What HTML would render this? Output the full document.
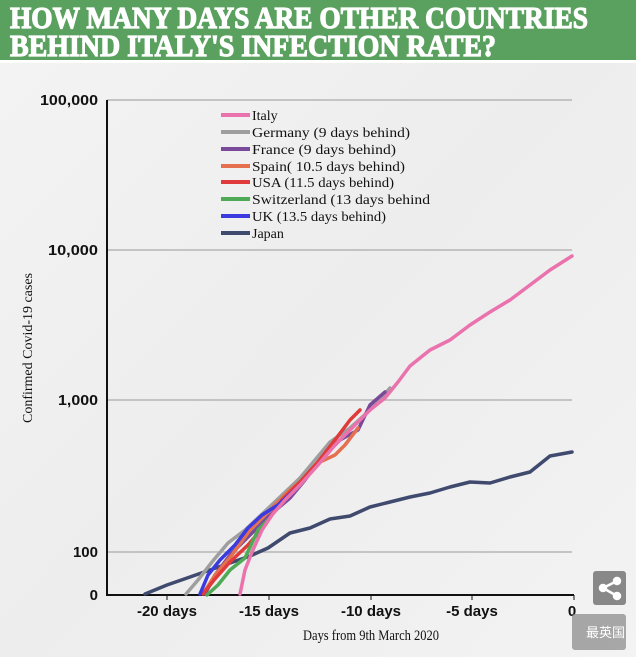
<!DOCTYPE html>
<html><head><meta charset="utf-8"><style>
html,body{margin:0;padding:0;width:636px;height:657px;overflow:hidden;background:#f2f2f2}
</style></head><body>
<svg width="636" height="657" viewBox="0 0 636 657" xmlns="http://www.w3.org/2000/svg" style="display:block">
<defs><linearGradient id="bg" x1="0" y1="0" x2="1" y2="1">
<stop offset="0" stop-color="#f4f4f4"/><stop offset="0.5" stop-color="#ededed"/><stop offset="1" stop-color="#f3f3f3"/></linearGradient></defs>
<rect width="636" height="657" fill="url(#bg)"/>
<rect x="0" y="0" width="636" height="60" fill="#5aa05e"/>
<rect x="0" y="60" width="636" height="3" fill="#fff"/>
<g font-family="Liberation Serif, serif" font-weight="bold" fill="#fff" stroke="#fff" stroke-width="1.2" font-size="31">
<text x="10" y="28" textLength="578" lengthAdjust="spacingAndGlyphs">HOW MANY DAYS ARE OTHER COUNTRIES</text>
<text x="10" y="56" textLength="486" lengthAdjust="spacingAndGlyphs">BEHIND ITALY'S INFECTION RATE?</text>
</g>
<g stroke="#b5b5b5" stroke-width="1.5">
<line x1="107" y1="100" x2="572" y2="100"/>
<line x1="107" y1="250" x2="572" y2="250"/>
<line x1="107" y1="400" x2="572" y2="400"/>
<line x1="107" y1="552" x2="572" y2="552"/>
</g>
<g stroke="#111" stroke-width="2" fill="none">
<line x1="107" y1="100" x2="107" y2="596"/>
<line x1="106" y1="595" x2="574" y2="595"/>
</g>
<g stroke="#111" stroke-width="1">
<line x1="167" y1="595" x2="167" y2="600"/><line x1="269" y1="595" x2="269" y2="600"/><line x1="371" y1="595" x2="371" y2="600"/><line x1="472" y1="595" x2="472" y2="600"/><line x1="574" y1="595" x2="574" y2="600"/>
</g>
<g font-family="Liberation Sans, sans-serif" font-weight="bold" font-size="15" fill="#111" text-anchor="end">
<text x="98" y="105" textLength="58" lengthAdjust="spacingAndGlyphs">100,000</text>
<text x="98" y="255" textLength="50" lengthAdjust="spacingAndGlyphs">10,000</text>
<text x="98" y="405" textLength="40" lengthAdjust="spacingAndGlyphs">1,000</text>
<text x="98" y="557">100</text>
<text x="98" y="600">0</text>
</g>
<g font-family="Liberation Sans, sans-serif" font-weight="bold" font-size="15" fill="#111" text-anchor="middle">
<text x="167" y="616">-20 days</text><text x="269" y="616">-15 days</text><text x="371" y="616">-10 days</text><text x="472" y="616">-5 days</text><text x="572" y="616">0</text>
</g>
<text x="371" y="640" font-family="Liberation Serif, serif" font-size="15" fill="#111" text-anchor="middle" textLength="136" lengthAdjust="spacingAndGlyphs">Days from 9th March 2020</text>
<text transform="translate(32,348) rotate(-90)" font-family="Liberation Serif, serif" font-size="14" fill="#111" text-anchor="middle" textLength="150" lengthAdjust="spacingAndGlyphs">Confirmed Covid-19 cases</text>
<g fill="none" stroke-width="3.5" stroke-linejoin="round" stroke-linecap="round">
<polyline stroke="#3f4a6e" points="145,594 167,585 190,577 210,570 230,563 250,556 268,548 290,533 310,528 330,519 350,516 370,507 390,502 410,497 430,493 450,487 470,482 490,483 510,477 530,472 550,456 572,452"/>
<polyline stroke="#9e9e9e" points="186,594 198,580 212,562 228,543 245,530 260,516 280,497 300,478 315,460 330,442 350,428 370,410 390,388"/>
<polyline stroke="#7a4a9a" points="205,594 215,575 230,555 250,535 270,515 290,498 305,480 320,460 340,440 358,430 370,405 385,392"/>
<polyline stroke="#e5704f" points="203,594 215,575 232,555 250,530 270,510 290,490 305,478 320,462 335,455 345,445 358,428"/>
<polyline stroke="#e03a3a" points="203,594 214,580 230,562 248,545 265,525 282,500 300,482 318,462 335,440 350,420 360,410"/>
<polyline stroke="#4faa55" points="207,595 218,585 230,570 245,558 258,530 268,520"/>
<polyline stroke="#3a3ae0" points="200,594 208,575 220,560 235,545 248,528 262,515 278,505 298,487"/>
<polyline stroke="#ea72ad" points="240,594 245,570 252,552 262,530 272,515 285,500 300,485 318,465 335,445 352,428 370,410 385,398 398,382 410,366 430,350 450,340 470,325 490,312 510,300 530,285 550,270 572,256"/>
</g>
<g stroke-width="4">
<line x1="221" y1="115" x2="250" y2="115" stroke="#ea72ad"/>
<line x1="221" y1="132" x2="250" y2="132" stroke="#9e9e9e"/>
<line x1="221" y1="149" x2="250" y2="149" stroke="#7a4a9a"/>
<line x1="221" y1="166" x2="250" y2="166" stroke="#e5704f"/>
<line x1="221" y1="182" x2="250" y2="182" stroke="#e03a3a"/>
<line x1="221" y1="199" x2="250" y2="199" stroke="#4faa55"/>
<line x1="221" y1="216" x2="250" y2="216" stroke="#3a3ae0"/>
<line x1="221" y1="233" x2="250" y2="233" stroke="#3f4a6e"/>
</g>
<g font-family="Liberation Serif, serif" font-size="14" fill="#111">
<text x="252" y="120">Italy</text>
<text x="252" y="137" textLength="158" lengthAdjust="spacingAndGlyphs">Germany (9 days behind)</text>
<text x="252" y="154" textLength="144" lengthAdjust="spacingAndGlyphs">France (9 days behind)</text>
<text x="252" y="171" textLength="153" lengthAdjust="spacingAndGlyphs">Spain( 10.5 days behind)</text>
<text x="252" y="187" textLength="142" lengthAdjust="spacingAndGlyphs">USA (11.5 days behind)</text>
<text x="252" y="204" textLength="178" lengthAdjust="spacingAndGlyphs">Switzerland (13 days behind</text>
<text x="252" y="221" textLength="134" lengthAdjust="spacingAndGlyphs">UK (13.5 days behind)</text>
<text x="252" y="238">Japan</text>
</g>
<rect x="593" y="571" width="33" height="34" rx="3" fill="#888"/>
<g stroke="#fff" stroke-width="2.5" fill="#fff"><line x1="603" y1="588" x2="617" y2="581"/><line x1="603" y1="588" x2="617" y2="596"/><circle cx="603" cy="588" r="3"/><circle cx="617" cy="581" r="3"/><circle cx="617" cy="596" r="3"/></g>
<rect x="572" y="614" width="54" height="36" rx="3" fill="#999" opacity="0.85"/>
<text x="586" y="637" font-family="Liberation Sans, 'Noto Sans CJK SC', sans-serif" font-size="13" fill="#fff">最英国</text>
</svg>
</body></html>
